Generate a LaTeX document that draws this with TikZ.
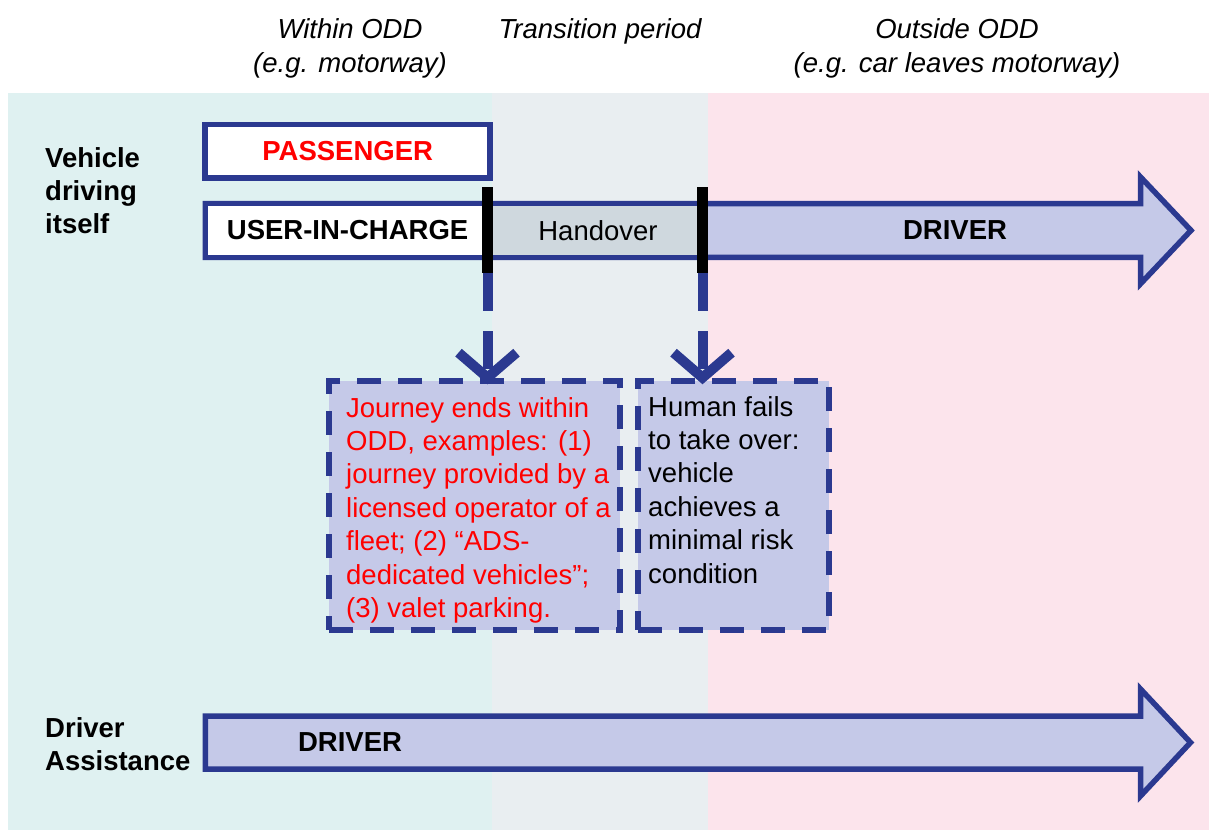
\documentclass[tikz,border=0pt]{standalone}
\usepackage{fontspec}
\setmainfont{Liberation Sans}
\definecolor{mNavy}{HTML}{2B3990}
\definecolor{mLilac}{HTML}{C5C9E8}
\definecolor{mSlate}{HTML}{CFD8DE}
\definecolor{mTeal}{HTML}{DFF1F1}
\definecolor{mMist}{HTML}{E9EEF1}
\definecolor{mPink}{HTML}{FCE4EC}
\definecolor{mRed}{HTML}{FF0000}
\usetikzlibrary{arrows.meta}

\begin{document}
\begin{tikzpicture}[x=1pt, y=-1pt,
  every node/.style={font=\fontsize{27.5}{33.4}\selectfont, inner sep=0pt},
  heavy/.style={font=\fontsize{27.5}{33.4}\selectfont\bfseries},
  hdr/.style={anchor=north, align=center, font=\fontsize{27.5}{34.5}\selectfont\itshape},
  lbl/.style={anchor=north west, align=left, heavy},
  bx/.style={draw=mNavy, line width=5.5pt, dash pattern=on 24pt off 17pt,
             fill=mLilac, minimum height=249pt},
  bar/.style={fill=black, minimum width=11pt, minimum height=86pt},
  link/.style={draw=mNavy, line width=10pt, dash pattern=on 38pt off 20pt,
               shorten >=-6pt, -{Straight Barb[length=25pt, width=58pt]}}]
  \useasboundingbox (0,0) rectangle (1209,830);
  % the three zones
  \fill[mTeal] (8,93) rectangle (492,830);
  \fill[mMist] (492,93) rectangle (708,830);
  \fill[mPink] (708,93) rectangle (1209,830);
  \node[hdr] (within)  at (350,18) {Within ODD\\(e.g. motorway)};
  \node[hdr] (trans)   at (600,18) {Transition period};
  \node[hdr] (outside) at (957,18) {Outside ODD\\(e.g. car leaves motorway)};
  \node[lbl] (self)   at (45,147) {Vehicle\\driving\\itself};
  \node[lbl] (assist) at (45,717) {Driver\\Assistance};
  % vehicle driving itself
  \node[draw=mNavy, line width=5.5pt, fill=white, minimum width=285pt,
    minimum height=53.5pt, heavy, text=mRed] (pass) at (347.7,151.2) {PASSENGER};
  \draw[mNavy, line width=5.5pt, fill=mLilac] (205.3,203.5) -- (1140.5,203.5)
    -- (1140.5,177) -- (1191,230.4) -- (1140.5,283.8) -- (1140.5,257.3)
    -- (205.3,257.3) -- cycle;
  \node[fill=white, minimum width=279pt, minimum height=48.3pt, heavy] (uic)
    at (347.6,230.4) {USER-IN-CHARGE};
  \node[fill=mSlate, minimum width=216pt, minimum height=48.3pt] (hand)
    at (598,230.4) {Handover};
  \node[heavy] (drv) at (955,230.4) {DRIVER};
  \node[bar] (cut1) at (487.5,230) {};
  \node[bar] (cut2) at (702.5,230) {};
  % outcomes
  \node[bx, minimum width=291pt] (ends)  at (474.5,505.5) {};
  \node[bx, minimum width=191pt] (fails) at (733.5,505.5) {};
  \node[anchor=north west, align=left, text=mRed] (endstxt) at (346,397)
    {Journey ends within\\ODD, examples: (1)\\journey provided by a\\licensed operator of a\\fleet; (2) “ADS-\\dedicated vehicles”;\\(3) valet parking.};
  \node[anchor=north west, align=left] (failstxt) at (648,396)
    {Human fails\\to take over:\\vehicle\\achieves a\\minimal risk\\condition};
  \draw[link] (cut1.south) -- (cut1.south |- ends.north);
  \draw[link] (cut2.south) -- (cut2.south |- fails.north);
  % driver assistance
  \draw[mNavy, line width=5.5pt, fill=mLilac] (205.3,716) -- (1140.5,716)
    -- (1140.5,689) -- (1190.5,742.5) -- (1140.5,796) -- (1140.5,769)
    -- (205.3,769) -- cycle;
  \node[heavy] (drv2) at (350,742.5) {DRIVER};
\end{tikzpicture}
\end{document}
